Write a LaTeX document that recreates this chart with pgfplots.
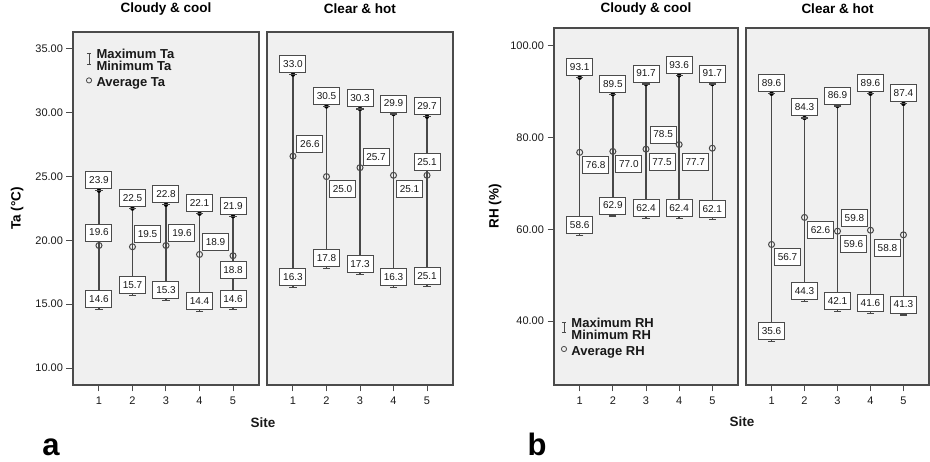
\documentclass[border=0pt]{standalone}
\usepackage{fontspec}
\setmainfont{Liberation Sans}
\usepackage{pgfplots}
\usepackage{pgfplotstable}
\pgfplotsset{compat=1.18}

\definecolor{panelbg}{RGB}{240,240,240}
\definecolor{framec}{RGB}{75,75,75}
\definecolor{barc}{RGB}{72,72,72}
\definecolor{txtc}{RGB}{25,25,25}

% site, minimum, maximum, average, printed labels,
% and the offset (pt) of the average label from its circle
\pgfplotstableread{
site lo   hi   avg  llo  lhi  lavg dx  dy
1    14.6 23.9 19.6 14.6 23.9 19.6 0   13
2    15.7 22.5 19.5 15.7 22.5 19.5 15  13
3    15.3 22.8 19.6 15.3 22.8 19.6 16  12.5
4    14.4 22.1 18.9 14.4 22.1 18.9 16  12
5    14.6 21.9 18.8 14.6 21.9 18.8 0   -14
}\TaCloudy

\pgfplotstableread{
site lo   hi   avg  llo  lhi  lavg dx  dy
1    16.3 33.0 26.6 16.3 33.0 26.6 17  12.5
2    17.8 30.5 25.0 17.8 30.5 25.0 16  -12.5
3    17.3 30.3 25.7 17.3 30.3 25.7 16  11
4    16.3 29.9 25.1 16.3 29.9 25.1 16  -13.5
5    16.4 29.7 25.1 25.1 29.7 25.1 0   13
}\TaClear

\pgfplotstableread{
site lo   hi   avg  llo  lhi  lavg dx  dy
1    58.6 93.1 76.8 58.6 93.1 76.8 16  -13
2    62.9 89.5 77.0 62.9 89.5 77.0 16  -13
3    62.4 91.7 77.5 62.4 91.7 77.5 16  -12.5
4    62.4 93.6 78.5 62.4 93.6 78.5 -16 10
5    62.1 91.7 77.7 62.1 91.7 77.7 -17 -14
}\RHCloudy

\pgfplotstableread{
site lo   hi   avg  llo  lhi  lavg dx  dy
1    35.6 89.6 56.7 35.6 89.6 56.7 16  -13
2    44.3 84.3 62.6 44.3 84.3 62.6 16  -12.5
3    42.1 86.9 59.6 42.1 86.9 59.6 16  -13
4    41.6 89.6 59.8 41.6 89.6 59.8 -16 12.5
5    41.3 87.4 58.8 41.3 87.4 58.8 -16 -13
}\RHClear

\tikzset{
  valbox/.style={draw=framec, line width=1pt, fill=white, text=txtc,
    font=\fontsize{10}{10}\selectfont, inner sep=0pt,
    minimum width=26pt, minimum height=17pt, anchor=center},
}

\pgfplotsset{
  panel/.style={
    scale only axis, anchor=south west,
    xmin=0.225, xmax=5.775, xtick={1,2,3,4,5},
    axis background/.style={fill=panelbg},
    axis line style={draw=framec, line width=1.6pt},
    tick style={draw=framec, line width=1pt},
    tick align=outside, major tick length=6.5pt,
    xtick pos=bottom, ytick pos=left,
    /pgf/number format/assume math mode=true,
    ticklabel style={font=\fontsize{11}{12}\selectfont, text=txtc},
    xticklabel style={yshift=-2pt},
    yticklabel style={/pgf/number format/.cd, fixed, fixed zerofill, precision=2},
    title style={font=\bfseries\fontsize{13.5}{15}\selectfont, at={(0.5,1)}, anchor=center},
    ylabel style={font=\bfseries\fontsize{13.5}{15}\selectfont, anchor=center},
    legend style={draw=none, fill=none, inner sep=0pt, outer sep=0pt,
      font=\bfseries\fontsize{13}{13}\selectfont, text=txtc,
      row sep=0pt, nodes={inner sep=0.5pt}},
    legend cell align=left,
  },
}

% min-max bar, capped ends with boxed values, and the average circle
\newcommand{\siteplots}[1]{%
  \addplot[forget plot, only marks, mark=none,
    error bars/.cd, y dir=minus, y explicit, error mark=none,
    error bar style={draw=barc, line width=1.4pt}]
    table[x=site, y=hi, y error minus expr=\thisrow{hi}-\thisrow{lo}] {#1};
  \addplot[forget plot, only marks, mark=-, mark size=3.6pt,
    mark options={draw=barc, line width=1.2pt},
    point meta=explicit symbolic, nodes near coords,
    every node near coord/.append style={valbox, yshift=10.5pt}]
    table[x=site, y=lo, meta=llo] {#1};
  \addplot[forget plot, only marks, mark=-, mark size=3.6pt,
    mark options={draw=barc, line width=1.2pt},
    point meta=explicit symbolic, nodes near coords,
    every node near coord/.append style={valbox, yshift=10.5pt}]
    table[x=site, y=hi, meta=lhi] {#1};
  \addplot[forget plot, only marks, mark=o, mark size=3pt,
    mark options={draw=barc, line width=1pt},
    visualization depends on={\thisrow{dx}\as\ldx},
    visualization depends on={\thisrow{dy}\as\ldy},
    point meta=explicit symbolic, nodes near coords,
    every node near coord/.append style={valbox, xshift=\ldx pt, yshift=\ldy pt}]
    table[x=site, y=avg, meta=lavg] {#1};
}

% legend keys: I-beam for the range, circle for the average
\newcommand{\rangelegend}[1]{%
  \addlegendimage{legend image code/.code={
    \path[draw=none, fill=none] (-3pt,0pt) rectangle (7pt,0pt);
    \draw[overlay, barc, line width=0.8pt] (0pt,1pt) -- (0pt,-9.5pt)
      (-2.2pt,1pt) -- (2.2pt,1pt) (-2.2pt,-9.5pt) -- (2.2pt,-9.5pt);}}
  \addlegendentry{Maximum #1}
  \addlegendimage{legend image code/.code={
    \path[draw=none, fill=none] (-3pt,0pt) rectangle (7pt,0pt);}}
  \addlegendentry{Minimum #1}
  \addlegendimage{legend image code/.code={
    \path[draw=none, fill=none] (-3pt,0pt) rectangle (7pt,0pt);
    \draw[barc, line width=0.8pt, fill=none] (0pt,0pt) circle (2.6pt);}}
  \addlegendentry{\rule{0pt}{13.5pt}Average #1}
}

\begin{document}
\begin{tikzpicture}
\path[use as bounding box] (0pt,0pt) rectangle (930pt,462pt);

% ---- a: air temperature ----
\begin{axis}[panel, at={(73pt,77pt)}, width=186pt, height=353pt,
  ymin=8.67, ymax=36.33, ytick={10,15,20,25,30,35},
  title={Cloudy \& cool}, title style={yshift=17pt},
  ylabel={Ta (°C)}, ylabel style={at={(axis description cs:-0.301,0.5)}},
  legend style={at={(axis description cs:0.07,0.953)}, anchor=north west}]
  \rangelegend{Ta}
  \siteplots{\TaCloudy}
\end{axis}

\begin{axis}[panel, at={(267pt,77pt)}, width=186pt, height=353pt,
  ymin=8.67, ymax=36.33, ytick=\empty,
  title={Clear \& hot}, title style={yshift=17pt}]
  \siteplots{\TaClear}
\end{axis}

% ---- b: relative humidity ----
\begin{axis}[panel, at={(554pt,77pt)}, width=184pt, height=357pt,
  ymin=26.04, ymax=103.93, ytick={40,60,80,100},
  title={Cloudy \& cool}, title style={yshift=13pt},
  ylabel={RH (\%)}, ylabel style={at={(axis description cs:-0.32,0.5)}},
  legend style={at={(axis description cs:0.038,0.19)}, anchor=north west}]
  \rangelegend{RH}
  \siteplots{\RHCloudy}
\end{axis}

\begin{axis}[panel, at={(746pt,77pt)}, width=183pt, height=357pt,
  ymin=26.04, ymax=103.93, ytick=\empty,
  title={Clear \& hot}, title style={yshift=13pt}]
  \siteplots{\RHClear}
\end{axis}

\node[font=\bfseries\fontsize{13.5}{15}\selectfont, text=txtc] at (263pt,39pt) {Site};
\node[font=\bfseries\fontsize{13.5}{15}\selectfont, text=txtc] at (742pt,40pt) {Site};
\node[font=\bfseries\fontsize{31}{31}\selectfont, anchor=base] at (51pt,6pt) {a};
\node[font=\bfseries\fontsize{31}{31}\selectfont, anchor=base] at (537pt,6pt) {b};
\end{tikzpicture}
\end{document}
